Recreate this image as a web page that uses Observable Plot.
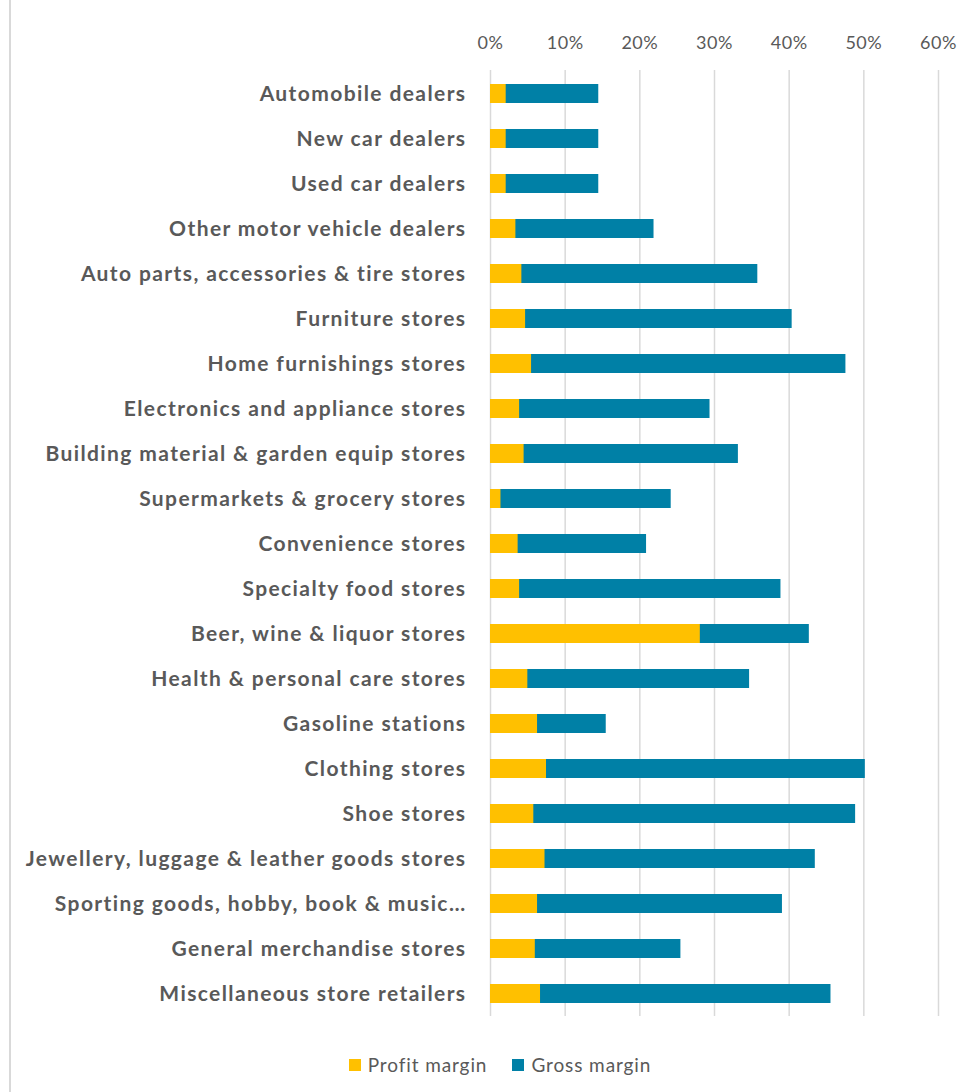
<!DOCTYPE html>
<html>
<head>
<meta charset="utf-8">
<script src="https://cdn.jsdelivr.net/npm/d3@7"></script>
<script src="https://cdn.jsdelivr.net/npm/@observablehq/plot@0.6"></script>
<style>
  html, body { margin: 0; padding: 0; background: #fff; }
  #wrap { position: relative; width: 972px; height: 1092px; overflow: hidden; }
  #frame { position: absolute; left: 9px; top: 0; width: 2px; height: 1092px; background: #d9d9d9; }
  #legend { position: absolute; top: 1053px; left: 0; width: 972px; display: flex; justify-content: center; gap: 25px;
    font-family: Lato, "Open Sans", sans-serif; font-size: 19px; letter-spacing: 0.9px; color: #595959; padding-left: 28px; box-sizing: border-box; }
  .item { display: flex; align-items: center; gap: 7px; }
  .sw { width: 12px; height: 12px; display: inline-block; }
</style>
</head>
<body>
<div id="wrap">
  <div id="frame"></div>
  <div id="chart"></div>
  <div id="legend"></div>
</div>
<script>
const categories = [
  "Automobile dealers",
  "New car dealers",
  "Used car dealers",
  "Other motor vehicle dealers",
  "Auto parts, accessories & tire stores",
  "Furniture stores",
  "Home furnishings stores",
  "Electronics and appliance stores",
  "Building material & garden equip stores",
  "Supermarkets & grocery stores",
  "Convenience stores",
  "Specialty food stores",
  "Beer, wine & liquor stores",
  "Health & personal care stores",
  "Gasoline stations",
  "Clothing stores",
  "Shoe stores",
  "Jewellery, luggage & leather goods stores",
  "Sporting goods, hobby, book & music…",
  "General merchandise stores",
  "Miscellaneous store retailers"
];
const profitMargin = [0.021, 0.021, 0.021, 0.034, 0.042, 0.047, 0.055, 0.039, 0.045, 0.014, 0.037, 0.039, 0.281, 0.050, 0.063, 0.075, 0.058, 0.073, 0.063, 0.060, 0.067];
const grossMargin  = [0.145, 0.145, 0.145, 0.219, 0.358, 0.404, 0.476, 0.294, 0.332, 0.242, 0.209, 0.389, 0.427, 0.347, 0.155, 0.502, 0.489, 0.435, 0.391, 0.255, 0.456];
const xTicks = [0, 0.1, 0.2, 0.3, 0.4, 0.5, 0.6];
const seriesNames = ["Profit margin", "Gross margin"];
const seriesColors = ["#FFC000", "#0080A6"];

const data = categories.map((c, i) => ({cat: c, profit: profitMargin[i], gross: grossMargin[i]}));

const chart = Plot.plot({
  width: 972,
  height: 1040,
  marginLeft: 490,
  marginRight: 34,
  marginTop: 70,
  marginBottom: 24,
  style: { fontFamily: "Lato, 'Open Sans', sans-serif", color: "#595959", background: "transparent" },
  x: { domain: [0, 0.6], label: null },
  y: { domain: categories, paddingInner: 0.58, paddingOuter: 0.29, label: null },
  marks: [
    Plot.gridX(xTicks, { stroke: "#d9d9d9", strokeOpacity: 1, strokeWidth: 1.5 }),
    Plot.axisX(xTicks, { anchor: "top", tickSize: 0, tickPadding: 22, tickFormat: d3.format(".0%"), fontSize: 18, fill: "#595959", label: null }),
    Plot.axisY({ tickSize: 0, tickPadding: 24, fontSize: 21, fontWeight: "bold", fill: "#595959", label: null }),
    Plot.barX(data, { x: "gross", y: "cat", fill: seriesColors[1] }),
    Plot.barX(data, { x: "profit", y: "cat", fill: seriesColors[0] })
  ]
});
d3.select(chart).selectAll('[aria-label="y-axis tick label"] text').style("letter-spacing", "1.4px");
d3.select(chart).selectAll('[aria-label="x-axis tick label"] text').style("letter-spacing", "0.5px");
document.getElementById("chart").appendChild(chart);

const legend = document.getElementById("legend");
seriesNames.forEach((n, i) => {
  const it = document.createElement("div");
  it.className = "item";
  const sw = document.createElement("span");
  sw.className = "sw";
  sw.style.background = seriesColors[i];
  const t = document.createElement("span");
  t.textContent = n;
  it.appendChild(sw); it.appendChild(t);
  legend.appendChild(it);
});
</script>
</body>
</html>
